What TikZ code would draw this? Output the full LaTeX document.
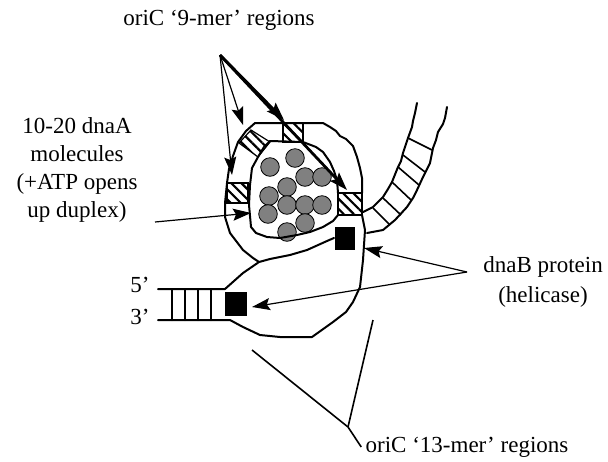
\documentclass[tikz,border=0pt]{standalone}
\usepackage{fontspec}
\setmainfont{Liberation Serif}
\usetikzlibrary{arrows.meta,patterns.meta}
\tikzset{strand/.style = {line width=1pt, line join=round, line cap=round}}
\tikzset{pointer/.style = {-{Stealth[length=9pt,width=6pt,inset=1.5pt]}, line width=0.6pt}}
\tikzset{boldpointer/.style = {pointer, line width=1.4pt}}
\tikzset{hatchbox/.style = {draw, line width=0.6pt, pattern={Lines[angle=-45,distance=3.6pt,line width=1.1pt]}}}
\tikzset{dnaa/.style = {draw=black, line width=0.4pt, fill={rgb,255:red,128;green,128;blue,128}}}
\tikzset{label/.style = {font=\fontsize{11.5}{14}\selectfont, align=center, inner sep=2pt}}

\begin{document}
\begin{tikzpicture}[x=0.5pt,y=-0.5pt]
	\useasboundingbox (0,0) rectangle (608,461);
	% dnaA molecules packed inside the bubble
	\foreach \cx/\cy in {295/158,270/167,305/177,322/177,287/187,269/196,
	                     287/205,305/205,322/205,268/214,305/223,287/232}
		\draw [dnaa] (\cx,\cy) circle (9.3);
	% 9-mer blocks between the two strands
	\draw [hatchbox] (283,123) rectangle (303,142);
	\draw [hatchbox] (227,183) rectangle (248,203);
	\draw [hatchbox] (338,193) rectangle (362,215);
	\draw [hatchbox] (239,143) -- (251,130) -- (270,142) -- (258,157) -- cycle;
	% outer strand of the upper lobe
	\draw [strand] (362,193) -- (362,178) -- (360,168) -- (357,157) -- (353,146)
		-- (346,139) -- (340,136) -- (336,131) -- (330,127) -- (323,123) -- (255,123)
		-- (246,131) -- (238,142) -- (233,156) -- (229,169) -- (227,183) -- (225,203)
		-- (225,217) -- (230,233) -- (243,250) -- (253,258) -- (259,262);
	% inner strand of the upper lobe
	\draw [strand] (338,193) -- (337,180) -- (334,171) -- (330,162) -- (323,152)
		-- (316,147) -- (303,142) -- (270,141) -- (264,147) -- (258,157) -- (252,168)
		-- (250,185) -- (249,205) -- (251,227) -- (256,233) -- (267,237) -- (280,238)
		-- (297,235) -- (310,232) -- (323,227) -- (333,221) -- (338,215);
	% lower lobe and the right hand strand running down into it
	\draw [strand] (362,215) -- (365,230) -- (363,260) -- (360,287) -- (353,302)
		-- (346,312) -- (333,322) -- (312,337) -- (280,337) -- (260,335) -- (243,327)
		-- (230,320) -- (158,320);
	\draw [strand] (158,289) -- (225,289) -- (243,273) -- (259,262) -- (270,259)
		-- (290,255) -- (307,250) -- (327,241) -- (334,238);
	% duplex on the left
	\foreach \rx in {172,185,198,211}
		\draw [strand] (\rx,289) -- (\rx,320);
	\node (five)  at (140,285) [label] {5’};
	\node (three) at (140,317) [label] {3’};
	% duplex leaving to the upper right
	\draw [strand] (363,212) -- (373,207) -- (383,197) -- (388,189) -- (392,182)
		-- (398,167) -- (401,161) -- (403,153) -- (408,138) -- (412,127) -- (413,121)
		-- (415,113) -- (417,103);
	\draw [strand] (367,233) -- (383,230) -- (395,220) -- (407,207) -- (413,198)
		-- (417,190) -- (423,177) -- (430,163) -- (433,148) -- (436,140) -- (438,132)
		-- (443,124) -- (445,118) -- (447,107);
	\foreach \ax/\ay/\bx/\by in {373/208/390/225, 383/198/401/215, 392/182/411/200,
	                             398/167/419/185, 403/155/425/172, 408/138/432/150}
		\draw [line width=0.8pt] (\ax,\ay) -- (\bx,\by);
	% dnaB helicase
	\fill (335,227) rectangle (355,250);
	\fill (225,292) rectangle (247,316);
	% labels
	\node (ninemer) at (219,20) [label] {oriC ‘9-mer’ regions};
	\node (dnaA) at (77,170) [label] {10-20 dnaA\\molecules\\(+ATP opens\\up duplex)};
	\node (dnaB) at (543,282) [label, font=\fontsize{11.5}{15}\selectfont] {dnaB protein\\(helicase)};
	\node (thirteen) at (467,447) [label] {oriC ‘13-mer’ regions};
	% where the pointers start and end
	\coordinate (ninefrom) at (220,55);
	\coordinate (ninetl) at (243,125);
	\coordinate (ninel) at (232,175);
	\coordinate (ninet) at (284,120);
	\coordinate (niner) at (347,190);
	\coordinate (dnaAfrom) at (155,222);
	\coordinate (dnaAto) at (251,213);
	\coordinate (dnaBfrom) at (467,272);
	\coordinate (helA) at (364,248);
	\coordinate (helB) at (252,307);
	\coordinate (thirteenjoin) at (348,427);
	\coordinate (thirteenA) at (252,350);
	\coordinate (thirteenB) at (373,320);
	% pointers
	\draw [pointer] (ninefrom) -- (ninetl);
	\draw [pointer] (ninefrom) -- (ninel);
	\draw [boldpointer] (ninefrom) -- (ninet);
	\draw [boldpointer] (ninefrom) -- (niner);
	\draw [pointer] (dnaAfrom) -- (dnaAto);
	\draw [pointer] (dnaBfrom) -- (helA);
	\draw [pointer] (dnaBfrom) -- (helB);
	\draw [line width=0.8pt] (thirteen.west) -- (thirteenjoin) -- (thirteenA);
	\draw [line width=0.8pt] (thirteenjoin) -- (thirteenB);
\end{tikzpicture}
\end{document}
